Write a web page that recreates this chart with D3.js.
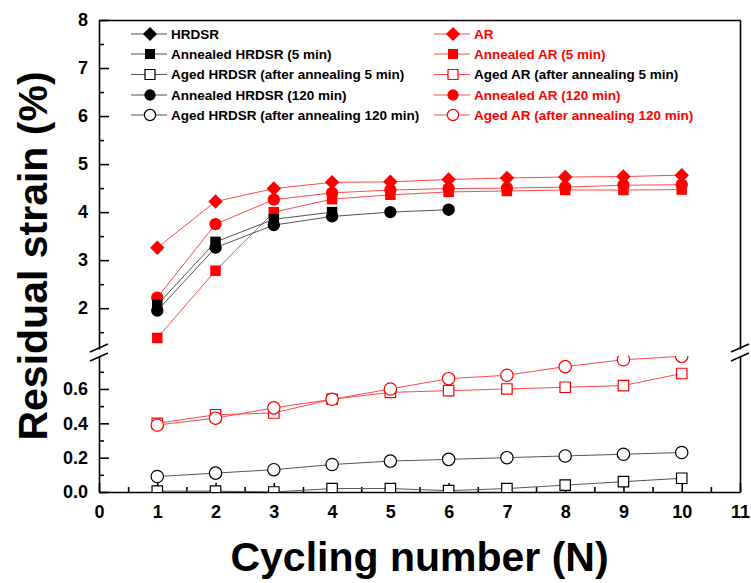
<html>
<head>
    <script src="https://d3js.org/d3.v7.min.js" charset="utf-8"></script>
    <style>
        body { margin: 0; background: #fff; }
        text { font-family: "Liberation Sans", Arial, sans-serif; font-weight: bold; }
    </style>
</head>
<body>
    <script type="text/javascript">
        var width = 751;
        var height = 583;

        // Data
        const cycles = [1, 2, 3, 4, 5, 6, 7, 8, 9, 10];
        const ar = [3.26, 4.22, 4.49, 4.62, 4.63, 4.68, 4.71, 4.73, 4.74, 4.77];
        const annealedHrdsr5 = [2.07, 3.38, 3.85, 4.00];
        const annealedAr5 = [1.38, 2.78, 4.00, 4.27, 4.36, 4.42, 4.44, 4.46, 4.46, 4.47];
        const agedHrdsr5 = [0.005, 0.005, 0.0, 0.02, 0.02, 0.008, 0.02, 0.04, 0.06, 0.08];
        const agedAr5 = [0.40, 0.45, 0.46, 0.54, 0.58, 0.59, 0.60, 0.61, 0.62, 0.69];
        const annealedHrdsr120 = [1.95, 3.26, 3.73, 3.91, 4.00, 4.05];
        const annealedAr120 = [2.22, 3.75, 4.26, 4.40, 4.46, 4.49, 4.50, 4.52, 4.56, 4.57];
        const agedHrdsr120 = [0.09, 0.11, 0.13, 0.16, 0.18, 0.19, 0.20, 0.21, 0.22, 0.23];
        const agedAr120 = [0.39, 0.43, 0.49, 0.54, 0.60, 0.66, 0.68, 0.73, 0.77, 0.79];

        const xTicks = [0, 1, 2, 3, 4, 5, 6, 7, 8, 9, 10, 11];
        const upperTicks = [2, 3, 4, 5, 6, 7, 8];
        const lowerTicks = [0.0, 0.2, 0.4, 0.6];

        const legendLeft = ["HRDSR", "Annealed HRDSR (5 min)", "Aged HRDSR (after annealing 5 min)",
            "Annealed HRDSR (120 min)", "Aged HRDSR (after annealing 120 min)"];
        const legendRight = ["AR", "Annealed AR (5 min)", "Aged AR (after annealing 5 min)",
            "Annealed AR (120 min)", "Aged AR (after annealing 120 min)"];

        const red = "#ff0000";
        const redLine = "#ff4a4a";
        const blackLine = "#555";

        // series: values, panel, marker symbol, filled, colour
        const series = [
            { values: agedHrdsr5, panel: "lower", shape: "square", filled: false, color: "#000", line: blackLine },
            { values: agedHrdsr120, panel: "lower", shape: "circle", filled: false, color: "#000", line: blackLine },
            { values: agedAr5, panel: "lower", shape: "square", filled: false, color: red, line: redLine },
            { values: agedAr120, panel: "lower", shape: "circle", filled: false, color: red, line: redLine },
            { values: ar, panel: "upper", shape: "diamond", filled: true, color: red, line: redLine },
            { values: annealedAr120, panel: "upper", shape: "circle", filled: true, color: red, line: redLine },
            { values: annealedAr5, panel: "upper", shape: "square", filled: true, color: red, line: redLine },
            { values: annealedHrdsr5, panel: "upper", shape: "square", filled: true, color: "#000", line: blackLine },
            { values: annealedHrdsr120, panel: "upper", shape: "circle", filled: true, color: "#000", line: blackLine }
        ];

        const plot = { left: 99, right: 740, top: 20, bottom: 492, breakTop: 349, breakBottom: 356 };

        const svg = d3.select("body").append("svg")
            .attr("width", width)
            .attr("height", height);

        const x = d3.scaleLinear().domain([0, 11]).range([plot.left, plot.right]);
        const yUpper = d3.scaleLinear().domain([1.15, 8]).range([plot.breakTop, plot.top]);
        const yLower = d3.scaleLinear().domain([0, 0.792]).range([plot.bottom, plot.breakBottom]);

        // diamond = square turned by 45 degrees
        const symbols = {
            square: d3.symbol().type(d3.symbolSquare).size(110),
            circle: d3.symbol().type(d3.symbolCircle).size(120),
            diamond: d3.symbol().type(d3.symbolSquare).size(105)
        };

        // clip paths for the two panels
        const defs = svg.append("defs");
        defs.append("clipPath").attr("id", "clip-upper").append("rect")
            .attr("x", plot.left).attr("y", plot.top)
            .attr("width", plot.right - plot.left).attr("height", plot.breakTop - plot.top);
        defs.append("clipPath").attr("id", "clip-lower").append("rect")
            .attr("x", plot.left).attr("y", plot.breakBottom)
            .attr("width", plot.right - plot.left).attr("height", plot.bottom - plot.breakBottom);

        const tickFont = g => g.selectAll("text")
            .style("font-size", "18px")
            .style("font-family", "'Liberation Sans', Arial, sans-serif")
            .style("font-weight", "bold")
            .attr("fill", "#000");

        // x axis (ticks point inward)
        svg.append("g")
            .attr("transform", `translate(0,${plot.bottom})`)
            .call(d3.axisBottom(x).tickValues(xTicks).tickSizeInner(-9).tickSizeOuter(0).tickPadding(13).tickFormat(d3.format("d")))
            .call(tickFont)
            .call(g => g.selectAll("line, path").attr("stroke", "#000").attr("stroke-width", 1.6));
        svg.append("g")
            .attr("transform", `translate(0,${plot.bottom})`)
            .call(d3.axisBottom(x).tickValues(d3.range(0.5, 11, 1)).tickSize(-5).tickFormat(""))
            .call(g => g.select(".domain").remove())
            .call(g => g.selectAll("line").attr("stroke-width", 1.6));

        // top border
        svg.append("g")
            .attr("transform", `translate(0,${plot.top})`)
            .call(d3.axisTop(x).tickValues([]).tickSizeOuter(0))
            .call(g => g.select(".domain").attr("stroke-width", 1.6));

        // left axes, upper and lower panel
        svg.append("g")
            .attr("transform", `translate(${plot.left},0)`)
            .call(d3.axisLeft(yUpper).tickValues(upperTicks).tickSizeInner(-10).tickSizeOuter(0).tickPadding(11).tickFormat(d3.format("d")))
            .call(tickFont)
            .call(g => g.selectAll("line, path").attr("stroke-width", 1.6));
        svg.append("g")
            .attr("transform", `translate(${plot.left},0)`)
            .call(d3.axisLeft(yUpper).tickValues(d3.range(1.5, 8, 1)).tickSize(-5).tickFormat(""))
            .call(g => g.select(".domain").remove())
            .call(g => g.selectAll("line").attr("stroke-width", 1.6));
        svg.append("g")
            .attr("transform", `translate(${plot.left},0)`)
            .call(d3.axisLeft(yLower).tickValues(lowerTicks).tickSizeInner(-10).tickSizeOuter(0).tickPadding(11).tickFormat(d3.format(".1f")))
            .call(tickFont)
            .call(g => g.selectAll("line, path").attr("stroke-width", 1.6));
        svg.append("g")
            .attr("transform", `translate(${plot.left},0)`)
            .call(d3.axisLeft(yLower).tickValues([0.1, 0.3, 0.5, 0.7]).tickSize(-5).tickFormat(""))
            .call(g => g.select(".domain").remove())
            .call(g => g.selectAll("line").attr("stroke-width", 1.6));

        // right border, both panels
        [yUpper, yLower].forEach(s => {
            svg.append("g")
                .attr("transform", `translate(${plot.right},0)`)
                .call(d3.axisRight(s).tickValues([]).tickSizeOuter(0))
                .call(g => g.select(".domain").attr("stroke-width", 1.6));
        });

        // axis break marks
        [plot.left, plot.right].forEach(bx => {
            [plot.breakTop - 1, plot.breakBottom + 1].forEach(by => {
                svg.append("line")
                    .attr("x1", bx - 9).attr("y1", by + 4)
                    .attr("x2", bx + 9).attr("y2", by - 4)
                    .attr("stroke", "#000").attr("stroke-width", 1.5);
            });
        });

        // series
        const line = d3.line();
        series.forEach(s => {
            const yScale = s.panel === "upper" ? yUpper : yLower;
            const pts = s.values.map((v, i) => [x(cycles[i]), yScale(v)]);
            const g = svg.append("g").attr("clip-path", `url(#clip-${s.panel})`);
            g.append("path")
                .attr("d", line(pts))
                .attr("fill", "none")
                .attr("stroke", s.line)
                .attr("stroke-width", 1);
            g.selectAll("path.mark")
                .data(pts)
                .join("path")
                .attr("class", "mark")
                .attr("transform", d => `translate(${d[0]},${d[1]})${s.shape === "diamond" ? " rotate(45)" : ""}`)
                .attr("d", symbols[s.shape])
                .attr("fill", s.filled ? s.color : "#fff")
                .attr("stroke", s.color)
                .attr("stroke-width", s.filled ? 0 : 1.2);
        });

        // legend
        const legendSymbols = {
            square: d3.symbol().type(d3.symbolSquare).size(100),
            circle: d3.symbol().type(d3.symbolCircle).size(100),
            diamond: d3.symbol().type(d3.symbolSquare).size(100)
        };
        const legendShapes = [["diamond", true], ["square", true], ["square", false], ["circle", true], ["circle", false]];
        const legendRows = [34, 54, 74.5, 95, 115];
        const columns = [
            { labels: legendLeft, mx: 150, color: "#000", line: blackLine, textColors: ["#000", "#000", "#000", "#000", "#000"] },
            { labels: legendRight, mx: 453, color: red, line: redLine, textColors: [red, red, "#000", red, red] }
        ];
        columns.forEach(c => {
            c.labels.forEach((label, i) => {
                const ly = legendRows[i];
                const [shape, filled] = legendShapes[i];
                svg.append("line")
                    .attr("x1", c.mx - 19).attr("x2", c.mx + 17)
                    .attr("y1", ly).attr("y2", ly)
                    .attr("stroke", c.line).attr("stroke-width", 1);
                svg.append("path")
                    .attr("transform", `translate(${c.mx},${ly})${shape === "diamond" ? " rotate(45)" : ""}`)
                    .attr("d", legendSymbols[shape])
                    .attr("fill", filled ? c.color : "#fff")
                    .attr("stroke", c.color)
                    .attr("stroke-width", filled ? 0 : 1.2);
                svg.append("text")
                    .attr("x", c.mx + 21)
                    .attr("y", ly)
                    .attr("dy", "0.36em")
                    .style("font-size", "13.5px")
                    .attr("fill", c.textColors[i])
                    .text(label);
            });
        });

        // axis titles
        svg.append("text")
            .attr("x", (plot.left + plot.right) / 2)
            .attr("y", 571)
            .attr("text-anchor", "middle")
            .style("font-size", "41px")
            .text("Cycling number (N)");

        svg.append("text")
            .attr("transform", `translate(47,256) rotate(-90)`)
            .attr("text-anchor", "middle")
            .style("font-size", "41px")
            .text("Residual strain (%)");
    </script>
</body>
</html>
